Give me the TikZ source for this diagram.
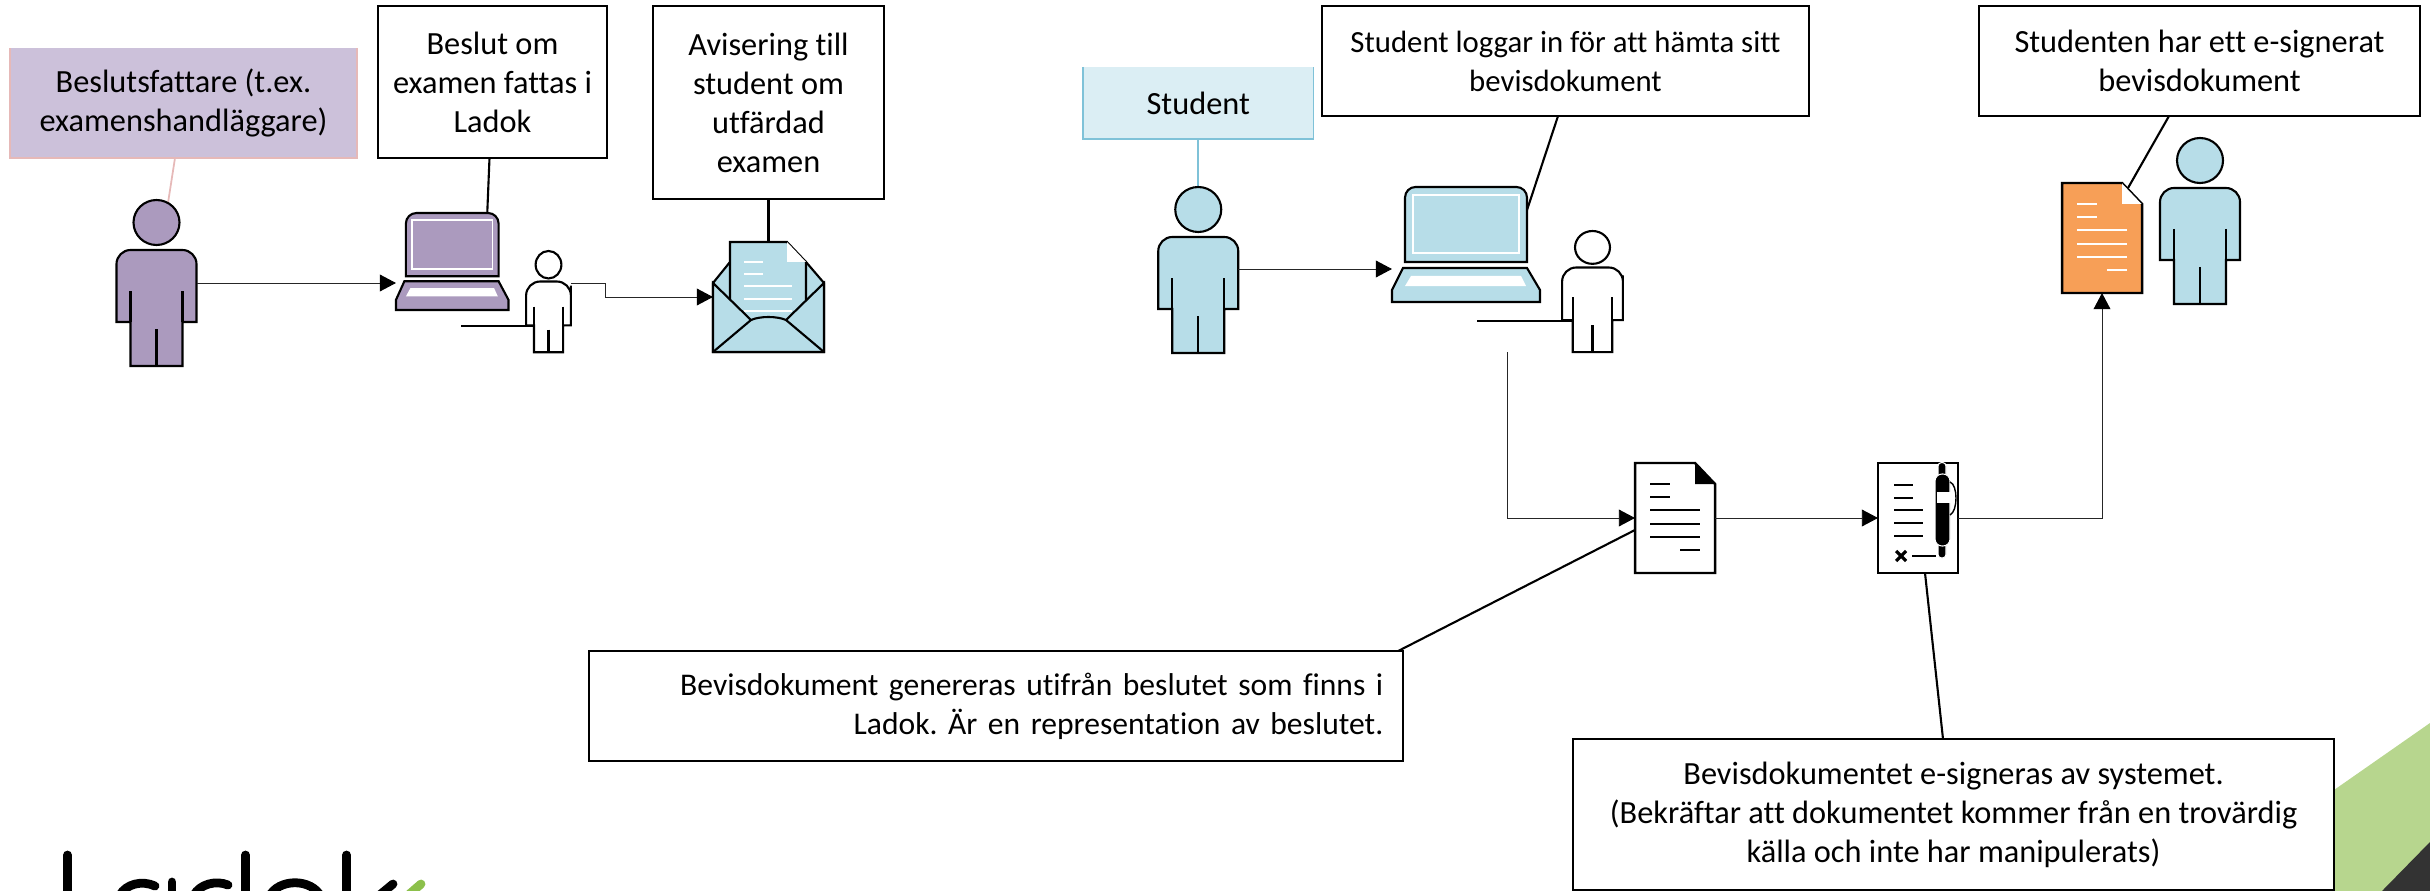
\documentclass[tikz,border=0pt]{standalone}
\usepackage{fontspec}
\setmainfont[Ligatures=NoCommon]{Carlito}
\usepackage{tikz}
\usetikzlibrary{arrows.meta}
\usetikzlibrary{calc}

\definecolor{lilac}{HTML}{AB9ABE}
\definecolor{lilacbox}{HTML}{CCC1DA}
\definecolor{pinkline}{HTML}{E6B9B8}
\definecolor{sky}{HTML}{B7DDE8}
\definecolor{skybox}{HTML}{DBEEF4}
\definecolor{skyline}{HTML}{7FC2D8}
\definecolor{orangedoc}{HTML}{F79F57}
\definecolor{greencorner}{HTML}{B7D68E}
\definecolor{darkcorner}{HTML}{333333}
\definecolor{logogreen}{HTML}{8CC04B}

\tikzset{
  msgbox/.style={draw=black, line width=0.7pt, fill=white, align=center, inner sep=0pt, outer sep=0pt,
    font=\fontsize{9.2}{11.1}\selectfont\frenchspacing},
  colorbox/.style={align=center, inner sep=0pt, outer sep=0pt, font=\fontsize{9.2}{11.1}\selectfont},
  iconbox/.style={inner sep=0pt, outer sep=0pt},
  iconline/.style={line width=0.6pt, line join=miter},
  callout/.style={line width=0.6pt},
  conn/.style={line width=0.25pt, black!85, -{Triangle[length=4.6pt,width=4.8pt,black]}},
  logostroke/.style={line width=2.5pt, line cap=round}
}

\begin{document}
\begin{tikzpicture}[x=0.01cm, y=-0.01cm]
  \useasboundingbox (0, 0) rectangle (2430, 891);

  % corner and logo
  \fill[greencorner] (2334, 790) -- (2430, 723) -- (2430, 891) -- (2334, 891) -- cycle;
  \fill[darkcorner] (2382, 891) -- (2430, 842) -- (2430, 891) -- cycle;
  \begin{scope}
    \clip (0, 0) rectangle (2430, 891);
    \draw[logostroke] (67.5, 855) -- (67.5, 900);
    \draw[logostroke] (120, 895) .. controls (126, 884) and (142, 880) .. (155, 886);
    \draw[logostroke] (172, 882) -- (172, 900);
    \draw[logostroke] (194, 895) .. controls (200, 884) and (216, 880) .. (228, 885);
    \draw[logostroke] (245.5, 855) -- (245.5, 900);
    \draw[logostroke] (269, 897) .. controls (278, 878) and (312, 878) .. (321, 897);
    \draw[logostroke] (346.5, 855) -- (346.5, 900);
    \draw[logostroke] (393, 884) -- (370, 903);
    \draw[logostroke, logogreen] (421, 884) -- (398, 904);
  \end{scope}

  % text boxes
  \node[colorbox, fill=lilacbox, minimum width=3.47cm, minimum height=1.1cm] (beslutsfattare) at (183.5, 103) {Beslutsfattare (t.ex.\\examenshandläggare)};
  \draw[pinkline, line width=0.4pt] (beslutsfattare.north west) -- (beslutsfattare.south west) -- (beslutsfattare.south east) -- (beslutsfattare.north east);
  \node[msgbox, minimum width=2.29cm, minimum height=1.52cm] (beslut) at (492.5, 82) {Beslut om\\examen fattas i\\Ladok};
  \node[msgbox, minimum width=2.31cm, minimum height=1.93cm] (avisering) at (768.5, 102.5) {Avisering till\\student om\\utfärdad\\examen};
  \node[colorbox, fill=skybox, minimum width=2.305cm, minimum height=0.72cm] (student) at (1198.25, 103) {Student};
  \draw[skyline, line width=0.4pt] (student.north west) -- (student.south west) -- (student.south east) -- (student.north east);
  \node[msgbox, font=\fontsize{8.75}{11.1}\selectfont, minimum width=4.87cm, minimum height=1.1cm] (loggar) at (1565.5, 61) {Student loggar in för att hämta sitt\\bevisdokument};
  \node[msgbox, minimum width=4.41cm, minimum height=1.1cm] (signerat) at (2199.5, 61) {Studenten har ett e-signerat\\bevisdokument};
  \node[msgbox, font=\fontsize{8.98}{11.1}\selectfont\frenchspacing, text width=7.74cm, inner xsep=0.2cm, minimum height=1.1cm, align=right] (genereras) at (996, 706) {Bevisdokument genereras utifrån beslutet som finns i\\Ladok. Är en representation av beslutet.};
  \node[msgbox, minimum width=7.61cm, minimum height=1.51cm] (esigneras) at (1953.5, 814.5) {Bevisdokumentet e-signeras av systemet.\\(Bekräftar att dokumentet kommer från en trovärdig\\källa och inte har manipulerats)};

  % callout lines, under the icons
  \draw[pinkline, line width=0.5pt] ([xshift=-0.085cm]beslutsfattare.south) -- (168, 203);
  \draw[skyline, line width=0.5pt] (student.south) -- (1198.25, 187);

  % persons
  \foreach \name/\x/\y/\sx/\sy/\col in {persona/156.5/200/1/1/lilac, personb/1198.25/187/1/1/sky, personc/2200/138/1/1/sky, smalla/548.5/251/0.56/0.61/white, smallb/1592.5/231/0.76/0.73/white} {
    \begin{scope}[shift={(\x, \y)}, xscale=\sx, yscale=\sy]
      \node[iconbox, minimum width=\sx*0.8cm, minimum height=\sy*1.66cm] (\name) at (0, 83) {};
      \draw[iconline, fill=\col] (0, 22.5) ellipse [x radius=23, y radius=22.5];
      \draw[iconline, fill=\col] (-40, 122) [rounded corners=4pt] -- (-40, 50) -- (40, 50) -- (40, 80) [sharp corners] -- (40, 122) -- (26, 122) -- (26, 166) -- (-26, 166) -- (-26, 122) -- cycle;
      \draw[iconline] (-26, 91) -- (-26, 122);
      \draw[iconline] (26, 91) -- (26, 122);
      \draw[iconline] (0, 129) -- (0, 166);
    \end{scope}
  }

  % laptops
  \foreach \name/\x/\y/\sx/\sy/\col in {laptopa/396/213/0.76/0.843/lilac, laptopb/1392/187/1/1/sky} {
    \begin{scope}[shift={(\x, \y)}, xscale=\sx, yscale=\sy]
      \node[iconbox, minimum width=\sx*1.48cm, minimum height=\sy*1.15cm] (\name) at (74, 57.5) {};
      \draw[iconline, fill=\col] (13, 75) [rounded corners=3pt] -- (13, 0) -- (135, 0) -- (135, 30) [sharp corners] -- (135, 75) -- cycle;
      \draw[white, line width=0.5pt] (21, 8) rectangle (127, 66);
      \draw[iconline, fill=\col] (11, 81) -- (135, 81) -- (148, 103) -- (148, 115) -- (0, 115) -- (0, 103) -- cycle;
      \fill[white] (19, 89) -- (129, 89) -- (134, 99) -- (13, 99) -- cycle;
    \end{scope}
  }
  \draw[line width=0.7pt] (461, 326) -- (534, 326);
  \draw[line width=0.7pt] (1477, 321) -- (1573, 321);

  % envelope
  \node[iconbox, minimum width=1.11cm, minimum height=1.1cm] (envelope) at (768.5, 297) {};
  \draw[iconline, fill=sky] (713, 283) -- (730, 262) -- (806, 262) -- (824, 283) -- (824, 352) -- (713, 352) -- cycle;
  \draw[iconline, fill=sky] (730, 300) -- (730, 242) -- (787, 242) -- (806, 262) -- (806, 300);
  \fill[white] (787, 242) -- (806, 262) -- (787, 262) -- cycle;
  \foreach \y/\a/\b in {262/744/763, 274/744/763, 286/744/792, 299/744/792, 311/744/792} {
    \draw[white, line width=0.5pt] (\a, \y) -- (\b, \y);
  }
  \draw[iconline, fill=sky] (713, 283) -- (751, 320) .. controls (760, 316) and (777, 316) .. (786, 320) -- (824, 283) -- (824, 352) -- (713, 352) -- cycle;
  \draw[iconline] (713, 352) -- (751, 320);
  \draw[iconline] (824, 352) -- (786, 320);

  % documents
  \foreach \name/\x/\y/\col/\lcol in {doca/1635/463/white/black, docc/2062/183/orangedoc/white} {
    \begin{scope}[shift={(\x, \y)}]
      \node[iconbox, minimum width=0.8cm, minimum height=1.1cm] (\name) at (40, 55) {};
      \draw[line width=0.7pt, fill=\col] (0, 0) -- (60, 0) -- (80, 21) -- (80, 110) -- (0, 110) -- cycle;
      \fill[\lcol] (60, 0.5) -- (79.5, 21) -- (60, 21) -- cycle;
      \foreach \yy/\a/\b in {21/15/35, 34/15/35, 47/15/65, 61/15/65, 74/15/65, 87/45/65} {
        \draw[\lcol, line width=0.7pt] (\a, \yy) -- (\b, \yy);
      }
    \end{scope}
  }

  % signed document
  \node[draw=black, line width=0.7pt, fill=white, iconbox, minimum width=0.8cm, minimum height=1.1cm] (docb) at (1918, 518) {};
  \begin{scope}[shift={(1878, 463)}]
    \foreach \yy/\b in {22/35, 35/35, 47/45, 60/45, 73/45} {
      \draw[line width=0.7pt] (16, \yy) -- (\b, \yy);
    }
    \draw[line width=0.9pt] (18, 88) -- (28, 98);
    \draw[line width=0.9pt] (28, 88) -- (18, 98);
    \draw[line width=0.7pt] (34, 93) -- (58, 93);
    \draw[white, fill=black, line width=0.3pt, rounded corners=1pt] (60, -0.5) rectangle (68, 95);
    \draw[white, fill=black, line width=0.3pt, rounded corners=2pt] (57, 11) rectangle (72, 83);
    \fill[white] (58.5, 29) rectangle (76, 40);
    \draw[line width=0.4pt] (72, 19) .. controls (80, 22) and (80, 48) .. (72, 52);
  \end{scope}

  % flow
  \draw[conn] (persona.east) -- (persona.east -| laptopa.west);
  \draw[conn] (smalla.east |- persona.east) -- ++(34.5, 0) |- (envelope.west);
  \draw[conn] (personb.east |- 0, 269) -- (laptopb.west |- 0, 269);
  \coordinate (laptopout) at (1507, 352);
  \draw[conn] (laptopout) |- (doca.west);
  \draw[conn] (doca.east) -- (docb.west);
  \draw[conn] (docb.east) -| (docc.south);

  % callout lines
  \draw[callout] ([xshift=-0.03cm]beslut.south) -- ([xshift=0.35cm]laptopa.north);
  \draw[callout] (avisering.south) -- (envelope.north);
  \draw[callout] ([xshift=-0.075cm]loggar.south) -- ([xshift=-0.13cm, yshift=-0.23cm]laptopb.north east);
  \draw[callout] ([xshift=-0.305cm]signerat.south) -- ([xshift=-0.14cm, yshift=-0.05cm]docc.north east);
  \draw[callout] ([yshift=-0.12cm]doca.west) -- ([xshift=-0.05cm]genereras.north east);
  \draw[callout] ([xshift=0.07cm]docb.south) -- ([xshift=-0.105cm]esigneras.north);
\end{tikzpicture}
\end{document}
